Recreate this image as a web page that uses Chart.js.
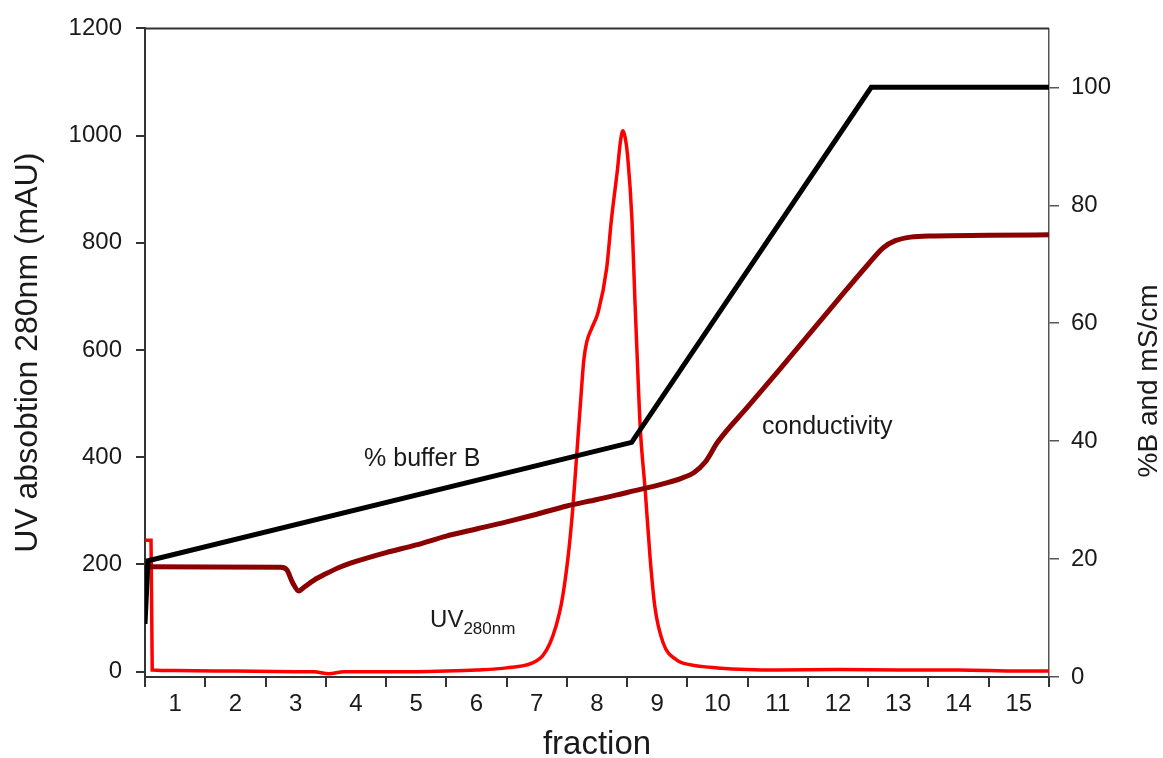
<!DOCTYPE html>
<html>
<head>
<meta charset="utf-8">
<title>Anion exchange elution</title>
<script src="https://cdn.jsdelivr.net/npm/chart.js@4.4.0/dist/chart.umd.min.js"></script>
<style>
  body { margin: 0; background: #fff; }
  #chart { display: block; }
</style>
</head>
<body>
<canvas id="chart" width="1163" height="758"></canvas>
<script>
// fraction numbers along the bottom, one per collected tube
const fractions = ['1', '2', '3', '4', '5', '6', '7', '8', '9', '10', '11', '12', '13', '14', '15'];
const uvTicks = [0, 200, 400, 600, 800, 1000, 1200];
const pctTicks = [0, 20, 40, 60, 80, 100];

// UV 280nm absorbance (mAU); x is in fraction units
const uvX = [0.5, 0.6, 0.62, 1.0, 2.0, 3.0, 3.3, 3.55, 3.8, 4.5, 5.0, 5.5, 6.0, 6.5, 6.92, 7.1, 7.22, 7.32,
  7.41, 7.52, 7.6, 7.66, 7.74, 7.78, 7.83, 7.91, 8.02, 8.16, 8.24, 8.34, 8.39, 8.43, 8.47, 8.51,
  8.58, 8.63, 8.69, 8.72, 8.8, 8.88, 8.96, 9.1, 9.32, 9.54, 10.0, 11.0, 12.0, 13.0, 14.0, 15.0, 15.5];
const uvY = [245, 245, 3, 2, 1, 0, 0, -4, 0, 0, 0, 1, 3, 7, 16, 30, 53, 85,
  127, 214, 307, 399, 523, 580, 615, 640, 671, 752, 844, 937, 990, 1009, 995, 960,
  844, 690, 523, 450, 338, 214, 121, 53, 22, 13, 7, 3, 4, 3, 3, 1, 1];

// % buffer B gradient program
const bufferX = [0.5, 0.55, 8.575, 12.55, 15.5];
const bufferY = [9, 19.7, 39.8, 100, 100];

// conductivity (mS/cm)
const condX = [0.5, 2.75, 2.85, 2.95, 3.05, 3.15, 3.3, 3.5, 3.75, 4.0, 4.5, 5.0, 5.5, 6.0, 6.5, 7.0, 7.5,
  8.0, 8.5, 9.0, 9.4, 9.6, 9.8, 10.0, 10.5, 11.0, 11.5, 12.0, 12.5, 12.75, 12.95, 13.2, 13.6, 14.5, 15.5];
const condY = [18.7, 18.6, 18.2, 16.0, 14.6, 15.3, 16.4, 17.5, 18.7, 19.6, 21.1, 22.4, 23.9, 25.1, 26.3, 27.6, 29.0,
  30.1, 31.3, 32.5, 33.7, 34.6, 36.5, 39.8, 45.8, 51.8, 57.9, 64.0, 70.0, 72.8, 74.0, 74.6, 74.8, 74.9, 75.0];

const fontFamily = "'Liberation Sans', Arial, sans-serif";
const axisColor = '#333';
Chart.defaults.font.family = fontFamily;
Chart.defaults.color = '#1a1a1a';

function toPoints(xs, ys) {
  return xs.map((x, i) => ({ x: x, y: ys[i] }));
}

// frame top edge, right axis title and the curve labels
const overlay = {
  id: 'overlay',
  afterDraw(chart) {
    const { ctx, chartArea, scales } = chart;
    ctx.save();
    ctx.strokeStyle = axisColor;
    ctx.lineWidth = 2;
    ctx.beginPath();
    ctx.moveTo(chartArea.left, chartArea.top);
    ctx.lineTo(chartArea.right, chartArea.top);
    ctx.stroke();

    ctx.fillStyle = '#1a1a1a';
    ctx.textBaseline = 'middle';
    ctx.textAlign = 'center';

    ctx.save();
    ctx.translate(1149, 381);
    ctx.rotate(-Math.PI / 2);
    ctx.font = `28px ${fontFamily}`;
    ctx.fillText('%B and mS/cm', 0, 0);
    ctx.restore();

    ctx.font = `25px ${fontFamily}`;
    ctx.fillText('% buffer B', scales.x.getPixelForValue(5.1), scales.y2.getPixelForValue(37));
    ctx.fillText('conductivity', scales.x.getPixelForValue(11.82), scales.y2.getPixelForValue(42.3));

    ctx.textAlign = 'left';
    ctx.textBaseline = 'alphabetic';
    const ux = scales.x.getPixelForValue(5.23);
    const uy = scales.y.getPixelForValue(83);
    ctx.font = `24px ${fontFamily}`;
    ctx.fillText('UV', ux, uy);
    const w = ctx.measureText('UV').width;
    ctx.font = `17px ${fontFamily}`;
    ctx.fillText('280nm', ux + w, uy + 7);
    ctx.restore();
  }
};

const plain = (v) => String(v);

const ctx = document.getElementById('chart').getContext('2d');
new Chart(ctx, {
  type: 'line',
  data: {
    datasets: [
      {
        label: '% buffer B',
        data: toPoints(bufferX, bufferY),
        yAxisID: 'y2',
        borderColor: '#000',
        borderWidth: 5,
        tension: 0,
        pointRadius: 0
      },
      {
        label: 'conductivity',
        data: toPoints(condX, condY),
        yAxisID: 'y2',
        borderColor: '#8b0000',
        borderWidth: 5,
        cubicInterpolationMode: 'monotone',
        pointRadius: 0
      },
      {
        label: 'UV280nm',
        data: toPoints(uvX, uvY),
        yAxisID: 'y',
        borderColor: '#ff0000',
        borderWidth: 3.5,
        cubicInterpolationMode: 'monotone',
        pointRadius: 0
      }
    ]
  },
  options: {
    responsive: false,
    animation: false,
    layout: { padding: { top: 25 } },
    plugins: {
      legend: { display: false },
      tooltip: { enabled: false }
    },
    scales: {
      x: { type: 'linear', min: 0.5, max: 15.5, display: false },
      xc: {
        type: 'category',
        labels: fractions,
        position: 'bottom',
        offset: true,
        grid: { offset: true, drawOnChartArea: false, tickLength: 10, color: axisColor, lineWidth: 2 },
        border: { display: true, color: axisColor, width: 2 },
        ticks: { font: { size: 24 }, padding: 3, maxRotation: 0, autoSkip: false },
        title: { display: true, text: 'fraction', font: { size: 33, lineHeight: 0.8 }, padding: { top: 0, bottom: 0 } },
        afterFit: (s) => { s.height = 81; }
      },
      y: {
        position: 'left',
        min: -10,
        max: 1200,
        afterBuildTicks: (s) => { s.ticks = uvTicks.map(v => ({ value: v })); },
        grid: { drawOnChartArea: false, tickLength: 9, color: axisColor, lineWidth: 2 },
        border: { display: true, color: axisColor, width: 2 },
        ticks: { font: { size: 24 }, padding: 14, callback: plain },
        title: { display: true, text: 'UV absobtion 280nm (mAU)', font: { size: 32, lineHeight: 1 }, padding: { top: 12 } },
        afterFit: (s) => { s.width = 145; }
      },
      y2: {
        position: 'right',
        min: 0,
        max: 110,
        afterBuildTicks: (s) => { s.ticks = pctTicks.map(v => ({ value: v })); },
        grid: { drawOnChartArea: false, tickLength: 10, color: '#555', lineWidth: 1.5 },
        border: { display: true, color: '#555', width: 1.5 },
        ticks: { font: { size: 24 }, padding: 12, callback: plain },
        afterFit: (s) => { s.width = 114; }
      }
    }
  },
  plugins: [overlay]
});
</script>
</body>
</html>
